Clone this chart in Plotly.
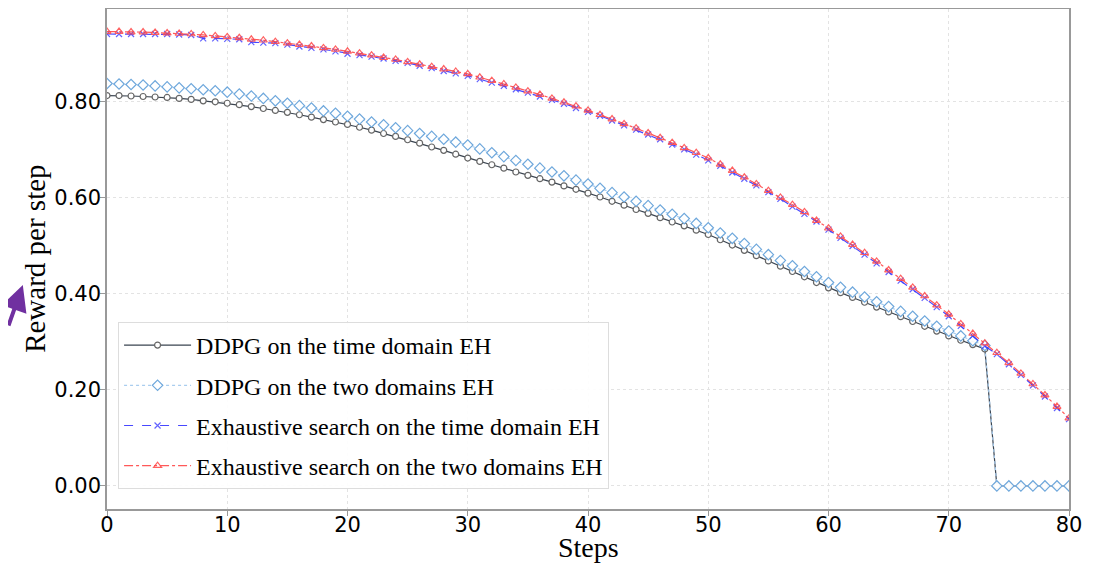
import plotly.graph_objects as go

steps = list(range(81))

ddpg_time = [0.812,0.812,0.811,0.810,0.809,0.808,0.806,0.804,0.801,0.799,
             0.796,0.793,0.789,0.785,0.781,0.777,0.772,0.767,0.762,0.757,
             0.752,0.746,0.740,0.733,0.727,0.720,0.713,0.705,0.698,0.690,
             0.682,0.675,0.668,0.661,0.653,0.646,0.639,0.632,0.624,0.617,
             0.609,0.601,0.592,0.584,0.575,0.567,0.558,0.549,0.541,0.532,
             0.523,0.512,0.501,0.490,0.479,0.468,0.457,0.446,0.435,0.423,
             0.412,0.402,0.392,0.382,0.372,0.362,0.352,0.342,0.332,0.322,
             0.312,0.303,0.294,0.285,0.0,0.0,0.0,0.0,0.0,0.0,
             0.0]

ddpg_two = [0.837,0.836,0.835,0.834,0.832,0.830,0.828,0.826,0.824,0.822,
            0.819,0.815,0.811,0.806,0.801,0.796,0.791,0.786,0.780,0.775,
            0.769,0.763,0.757,0.751,0.745,0.739,0.733,0.727,0.721,0.715,
            0.709,0.701,0.693,0.685,0.677,0.669,0.661,0.653,0.645,0.636,
            0.628,0.619,0.610,0.601,0.592,0.583,0.574,0.565,0.556,0.546,
            0.537,0.526,0.515,0.504,0.492,0.481,0.469,0.458,0.446,0.435,
            0.423,0.413,0.403,0.393,0.383,0.373,0.363,0.353,0.343,0.332,
            0.322,0.312,0.302,0.292,0.0,0.0,0.0,0.0,0.0,0.0,
            0.0]

exh_time = [0.940,0.940,0.940,0.940,0.940,0.940,0.939,0.938,0.931,0.931,
            0.930,0.929,0.923,0.922,0.921,0.918,0.914,0.911,0.908,0.904,
            0.899,0.896,0.893,0.889,0.884,0.880,0.874,0.869,0.863,0.858,
            0.853,0.846,0.839,0.832,0.825,0.818,0.810,0.803,0.795,0.786,
            0.778,0.770,0.760,0.750,0.741,0.731,0.721,0.710,0.700,0.689,
            0.677,0.666,0.652,0.639,0.625,0.611,0.597,0.581,0.566,0.550,
            0.533,0.516,0.499,0.481,0.463,0.445,0.427,0.409,0.391,0.372,
            0.353,0.333,0.312,0.291,0.274,0.253,0.231,0.209,0.186,0.162,
            0.139]

exh_two = [0.945,0.945,0.944,0.944,0.943,0.942,0.941,0.940,0.938,0.936,
           0.934,0.932,0.929,0.927,0.924,0.921,0.918,0.915,0.911,0.908,
           0.904,0.900,0.896,0.891,0.887,0.882,0.877,0.872,0.867,0.862,
           0.857,0.850,0.843,0.836,0.829,0.821,0.814,0.806,0.798,0.790,
           0.781,0.772,0.763,0.753,0.744,0.734,0.724,0.714,0.703,0.693,
           0.682,0.669,0.656,0.642,0.628,0.614,0.600,0.585,0.570,0.552,
           0.536,0.519,0.502,0.485,0.467,0.449,0.431,0.413,0.395,0.376,
           0.357,0.337,0.317,0.297,0.277,0.256,0.234,0.212,0.189,0.165,
           0.141]

names = ["DDPG on the time domain EH",
         "DDPG on the two domains EH",
         "Exhaustive search on the time domain EH",
         "Exhaustive search on the two domains EH"]

x_ticks = [0, 10, 20, 30, 40, 50, 60, 70, 80]
y_ticks = [0.0, 0.2, 0.4, 0.6, 0.8]

fig = go.Figure()

fig.add_trace(go.Scatter(
    x=steps, y=ddpg_time, name=names[0], mode="lines+markers", legendgroup="a", legendrank=1,
    line=dict(color="#3a4450", width=1.2),
    marker=dict(symbol="circle", size=6, color="white", line=dict(width=1.2, color="#666666")),
))
fig.add_trace(go.Scatter(
    x=steps, y=ddpg_two, name=names[1], mode="lines+markers", legendgroup="b", legendrank=2,
    line=dict(color="#a9cdef", width=1.2, dash="dot"),
    marker=dict(symbol="diamond", size=8, color="rgba(255,255,255,0.95)",
                line=dict(width=1.2, color="#6fa8dc")),
))
fig.add_trace(go.Scatter(
    x=steps, y=exh_time, name=names[2], mode="lines+markers", legendgroup="c", legendrank=3,
    line=dict(color="rgba(40,40,255,0.85)", width=1.2, dash="dash"),
    marker=dict(symbol="x-thin-open", size=6, color="rgba(60,60,255,0.8)", line=dict(width=1.2)),
))
fig.add_trace(go.Scatter(
    x=steps, y=exh_two, name=names[3], mode="lines+markers", legendgroup="d", legendrank=4,
    line=dict(color="rgba(255,60,60,0.85)", width=1.2, dash="dashdot"),
    marker=dict(symbol="triangle-up-open", size=7, color="rgba(255,80,80,0.9)", line=dict(width=1.2)),
))

serif = "Liberation Serif"

# the page places the figure 8px from the top-left corner
fig.update_layout(
    width=1096, height=555,
    margin=dict(l=99, r=35, t=1, b=54),
    paper_bgcolor="white", plot_bgcolor="white",
    showlegend=True,
    legend=dict(
        x=0.0115, y=0.374, xanchor="left", yanchor="top",
        bgcolor="rgba(255,255,255,0.9)", bordercolor="#dddddd", borderwidth=1,
        font=dict(family=serif, size=24, color="black"),
        traceorder="grouped", tracegroupgap=6, itemwidth=67,
    ),
    annotations=[
        dict(xref="paper", yref="paper", x=-0.0875, y=0.448,
             ax=-24, ay=42, showarrow=True, arrowhead=2, arrowsize=1.3,
             arrowwidth=4, arrowcolor="#7030a0", text=""),
        dict(xref="paper", yref="paper", x=0.5, y=-0.077, xanchor="center", yanchor="middle",
             text="Steps", showarrow=False, font=dict(family=serif, size=28, color="black")),
        dict(xref="paper", yref="paper", x=-0.075, y=0.5, xanchor="center", yanchor="middle",
             text="Reward per step", textangle=-90, showarrow=False,
             font=dict(family=serif, size=29, color="black")),
    ],
)

fig.update_xaxes(
    range=[0, 80], tickvals=x_ticks, automargin=False,
    showline=True, linecolor="#999999", linewidth=1.5, mirror=True,
    showgrid=True, gridcolor="#e3e3e3", griddash="dot", gridwidth=1,
    ticks="outside", ticklen=5, tickcolor="#999999", zeroline=False,
    ticklabelstandoff=-9,
    tickfont=dict(family="DejaVu Sans", size=21, color="black"),
)
fig.update_yaxes(
    range=[-0.048, 0.992], tickvals=y_ticks, tickformat=".2f", automargin=False,
    showline=True, linecolor="#999999", linewidth=1.5, mirror=True,
    showgrid=True, gridcolor="#e3e3e3", griddash="dot", gridwidth=1,
    ticks="outside", ticklen=5, tickcolor="#999999", zeroline=False,
    ticklabelstandoff=-5,
    tickfont=dict(family="DejaVu Sans", size=21, color="black"),
)

fig.write_html("out.html")
